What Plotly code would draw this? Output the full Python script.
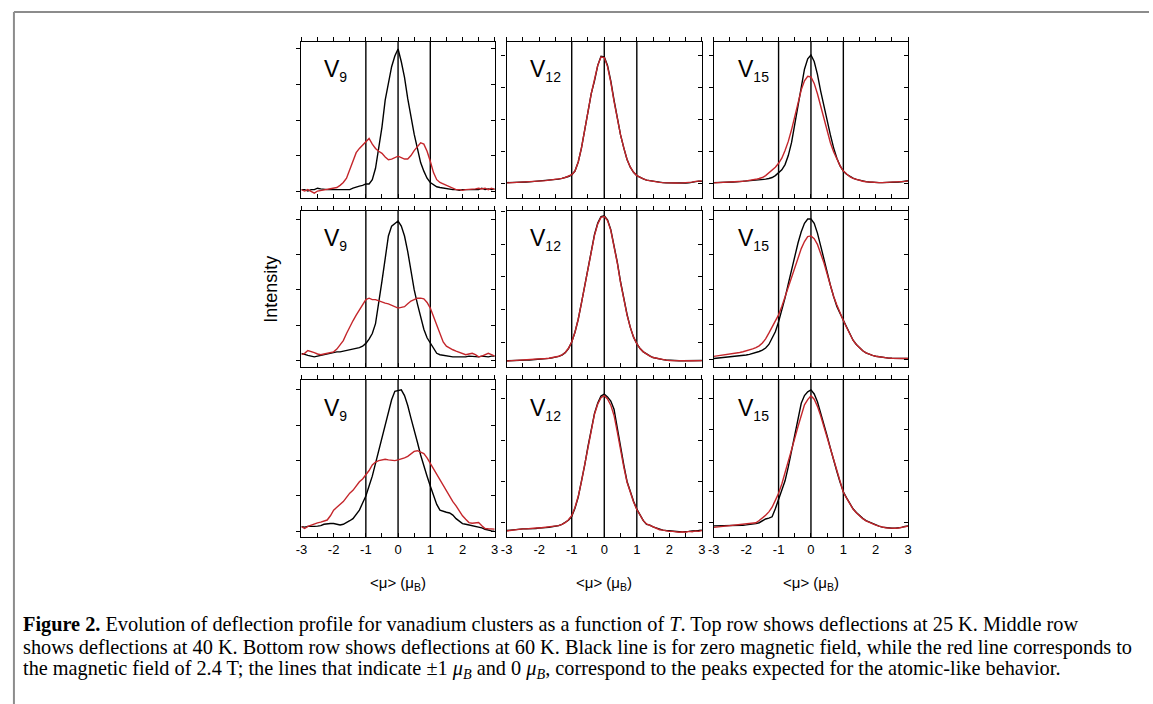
import plotly.graph_objects as go

# ---------------- data ----------------
mu = [-3.0, -2.9, -2.8, -2.7, -2.6, -2.5, -2.4, -2.3, -2.2, -2.1,
      -2.0, -1.9, -1.8, -1.7, -1.6, -1.5, -1.4, -1.3, -1.2, -1.1,
      -1.0, -0.9, -0.8, -0.7, -0.6, -0.5, -0.4, -0.3, -0.2, -0.1,
      0.0, 0.1, 0.2, 0.3, 0.4, 0.5, 0.6, 0.7, 0.8, 0.9,
      1.0, 1.1, 1.2, 1.3, 1.4, 1.5, 1.6, 1.7, 1.8, 1.9,
      2.0, 2.1, 2.2, 2.3, 2.4, 2.5, 2.6, 2.7, 2.8, 2.9, 3.0]

x_tickvals = [-3, -2.5, -2, -1.5, -1, -0.5, 0, 0.5, 1, 1.5, 2, 2.5, 3]
x_ticktext = ["-3", "", "-2", "", "-1", "", "0", "", "1", "", "2", "", "3"]
ref_lines = [-1, 0, 1]

cluster_labels = ["9", "12", "15"]

# V9, 25 K
v9_25K_zero = [0.01, 0.01, 0.0, 0.01, 0.01, 0.02, 0.015, 0.01, 0.01, 0.01,
               0.01, 0.01, 0.01, 0.005, 0.01, 0.01, 0.02, 0.03, 0.035, 0.04,
               0.05, 0.05, 0.08, 0.16, 0.29, 0.45, 0.64, 0.77, 0.875, 0.95,
               1.0, 0.91, 0.8, 0.65, 0.52, 0.40, 0.30, 0.2, 0.14, 0.09,
               0.06, 0.045, 0.03, 0.025, 0.02, 0.015, 0.01, 0.01, 0.01, 0.005,
               0.01, 0.01, 0.01, 0.015, 0.01, 0.01, 0.02, 0.01, 0.015, 0.01, 0.015]
v9_25K_field = [0.01, 0.0, 0.01, 0.0, -0.015, 0.0, 0.005, 0.01, 0.01, 0.015,
                0.02, 0.025, 0.04, 0.06, 0.09, 0.15, 0.21, 0.27, 0.3, 0.325,
                0.345, 0.37, 0.33, 0.3, 0.28, 0.265, 0.24, 0.22, 0.225, 0.235,
                0.245, 0.235, 0.225, 0.225, 0.25, 0.285, 0.315, 0.34, 0.33, 0.28,
                0.21, 0.13, 0.08, 0.06, 0.05, 0.04, 0.025, 0.015, 0.01, 0.01,
                0.005, 0.01, 0.01, 0.01, 0.015, 0.02, 0.015, 0.02, 0.01, 0.02, 0.01]
# V12, 25 K
v12_25K_zero = [0.01, 0.01, 0.01, 0.012, 0.012, 0.014, 0.015, 0.016, 0.018, 0.02,
                0.022, 0.024, 0.026, 0.028, 0.03, 0.033, 0.037, 0.043, 0.05, 0.058,
                0.07, 0.1, 0.17, 0.28, 0.42, 0.57, 0.7, 0.8, 0.92, 0.99,
                0.985, 0.92, 0.8, 0.65, 0.5, 0.38, 0.28, 0.19, 0.13, 0.09,
                0.065, 0.05, 0.04, 0.03, 0.025, 0.02, 0.015, 0.012, 0.01, 0.008,
                0.007, 0.007, 0.006, 0.006, 0.006, 0.007, 0.008, 0.012, 0.018, 0.022, 0.02]
v12_25K_field = [0.008, 0.009, 0.01, 0.011, 0.012, 0.013, 0.015, 0.016, 0.017, 0.02,
                 0.022, 0.024, 0.026, 0.029, 0.031, 0.034, 0.038, 0.043, 0.05, 0.06,
                 0.072, 0.1, 0.17, 0.28, 0.42, 0.57, 0.7, 0.81, 0.92, 0.985,
                 0.98, 0.91, 0.79, 0.64, 0.5, 0.38, 0.28, 0.19, 0.13, 0.09,
                 0.065, 0.05, 0.04, 0.03, 0.024, 0.019, 0.015, 0.012, 0.01, 0.008,
                 0.008, 0.007, 0.007, 0.006, 0.007, 0.008, 0.01, 0.014, 0.02, 0.022, 0.024]
# V15, 25 K
v15_25K_zero = [0.01, 0.01, 0.01, 0.012, 0.013, 0.014, 0.015, 0.016, 0.018, 0.02,
                0.022, 0.024, 0.026, 0.028, 0.03, 0.033, 0.037, 0.042, 0.05, 0.065,
                0.085, 0.11, 0.15, 0.22, 0.32, 0.46, 0.62, 0.77, 0.89, 0.97,
                1.0, 0.95, 0.85, 0.72, 0.6, 0.49, 0.38, 0.28, 0.2, 0.14,
                0.1, 0.075, 0.058, 0.045, 0.035, 0.028, 0.022, 0.018, 0.015, 0.012,
                0.011, 0.01, 0.01, 0.01, 0.011, 0.012, 0.013, 0.015, 0.017, 0.02, 0.025]
v15_25K_field = [0.008, 0.009, 0.01, 0.011, 0.012, 0.013, 0.015, 0.017, 0.019, 0.021,
                 0.024, 0.027, 0.031, 0.036, 0.042, 0.05, 0.065, 0.085, 0.105, 0.13,
                 0.16, 0.2, 0.26, 0.33, 0.42, 0.53, 0.64, 0.73, 0.8, 0.835,
                 0.83, 0.78, 0.7, 0.6, 0.5, 0.41, 0.32, 0.25, 0.19, 0.14,
                 0.1, 0.075, 0.056, 0.043, 0.034, 0.027, 0.021, 0.017, 0.014, 0.012,
                 0.011, 0.01, 0.01, 0.011, 0.012, 0.012, 0.014, 0.015, 0.018, 0.02, 0.024]
# V9, 40 K
v9_40K_zero = [0.05, 0.04, 0.035, 0.03, 0.025, 0.03, 0.035, 0.04, 0.05, 0.05,
               0.055, 0.06, 0.06, 0.065, 0.07, 0.073, 0.08, 0.085, 0.09, 0.1,
               0.12, 0.15, 0.19, 0.26, 0.4, 0.56, 0.72, 0.88, 0.95, 0.97,
               0.986, 0.95, 0.88, 0.77, 0.62, 0.5, 0.4, 0.3, 0.22, 0.16,
               0.12, 0.08, 0.05, 0.04, 0.035, 0.03, 0.028, 0.025, 0.025, 0.025,
               0.022, 0.025, 0.03, 0.028, 0.03, 0.025, 0.03, 0.028, 0.025, 0.03, 0.03]
v9_40K_field = [0.04, 0.05, 0.07, 0.065, 0.055, 0.045, 0.04, 0.045, 0.05, 0.05,
                0.06, 0.08, 0.11, 0.14, 0.19, 0.24, 0.28, 0.32, 0.36, 0.4,
                0.43, 0.44, 0.43, 0.43, 0.42, 0.41, 0.405, 0.4, 0.39, 0.38,
                0.37, 0.375, 0.38, 0.4, 0.42, 0.43, 0.44, 0.44, 0.435, 0.41,
                0.37, 0.31, 0.25, 0.19, 0.13, 0.1, 0.085, 0.075, 0.065, 0.055,
                0.045, 0.04, 0.045, 0.05, 0.04, 0.025, 0.03, 0.04, 0.05, 0.04, 0.03]
# V12, 40 K
v12_40K_zero = [0.085, 0.085, 0.086, 0.087, 0.087, 0.088, 0.089, 0.09, 0.091, 0.092,
                0.094, 0.096, 0.098, 0.1, 0.103, 0.107, 0.112, 0.12, 0.135, 0.16,
                0.2, 0.26, 0.34, 0.44, 0.55, 0.66, 0.77, 0.86, 0.93, 0.97,
                0.975, 0.95, 0.89, 0.8, 0.69, 0.57, 0.46, 0.37, 0.29, 0.23,
                0.19, 0.16, 0.14, 0.125, 0.115, 0.105, 0.1, 0.095, 0.092, 0.09,
                0.088, 0.087, 0.086, 0.085, 0.085, 0.085, 0.085, 0.085, 0.086, 0.086, 0.087]
v12_40K_field = [0.084, 0.085, 0.086, 0.086, 0.087, 0.088, 0.089, 0.09, 0.091, 0.093,
                 0.095, 0.097, 0.099, 0.101, 0.104, 0.108, 0.113, 0.121, 0.136, 0.162,
                 0.2, 0.26, 0.34, 0.44, 0.55, 0.66, 0.77, 0.855, 0.925, 0.965,
                 0.97, 0.945, 0.885, 0.795, 0.685, 0.565, 0.455, 0.365, 0.29, 0.23,
                 0.19, 0.16, 0.14, 0.125, 0.114, 0.105, 0.1, 0.095, 0.091, 0.089,
                 0.087, 0.086, 0.086, 0.085, 0.085, 0.084, 0.085, 0.085, 0.085, 0.086, 0.086]
# V15, 40 K
v15_40K_zero = [0.01, 0.012, 0.014, 0.016, 0.018, 0.02, 0.022, 0.025, 0.028, 0.031,
                0.035, 0.04, 0.045, 0.052, 0.06, 0.07, 0.085, 0.11, 0.15, 0.2,
                0.27, 0.35, 0.44, 0.54, 0.64, 0.74, 0.83, 0.91, 0.97, 1.0,
                1.0, 0.97, 0.9, 0.81, 0.71, 0.62, 0.53, 0.45, 0.38, 0.33,
                0.28, 0.23, 0.18, 0.14, 0.11, 0.085, 0.065, 0.05, 0.04, 0.032,
                0.026, 0.022, 0.018, 0.015, 0.013, 0.012, 0.011, 0.01, 0.01, 0.01, 0.01]
v15_40K_field = [0.025, 0.028, 0.031, 0.034, 0.037, 0.04, 0.044, 0.048, 0.053, 0.058,
                 0.064, 0.07, 0.078, 0.088, 0.1, 0.12, 0.15, 0.19, 0.23, 0.27,
                 0.32, 0.38, 0.45, 0.52, 0.59, 0.66, 0.73, 0.79, 0.84, 0.875,
                 0.88, 0.86, 0.82, 0.76, 0.69, 0.61, 0.53, 0.45, 0.39, 0.33,
                 0.28, 0.23, 0.18, 0.14, 0.11, 0.085, 0.065, 0.05, 0.04, 0.032,
                 0.026, 0.022, 0.018, 0.015, 0.013, 0.012, 0.011, 0.01, 0.01, 0.01, 0.01]
# V9, 60 K
v9_60K_zero = [0.033, 0.03, 0.035, 0.033, 0.035, 0.037, 0.04, 0.05, 0.055, 0.055,
               0.055, 0.05, 0.045, 0.05, 0.06, 0.075, 0.09, 0.12, 0.15, 0.2,
               0.25, 0.32, 0.39, 0.48, 0.57, 0.67, 0.77, 0.86, 0.93, 0.99,
               0.995, 1.0, 0.96, 0.89, 0.8, 0.72, 0.63, 0.54, 0.46, 0.39,
               0.32, 0.25, 0.19, 0.15, 0.14, 0.135, 0.13, 0.115, 0.09, 0.07,
               0.055, 0.05, 0.045, 0.04, 0.035, 0.033, 0.025, 0.015, 0.008, 0.003, 0.0]
v9_60K_field = [0.033, 0.02, 0.035, 0.045, 0.055, 0.06, 0.065, 0.07, 0.08, 0.11,
                0.15, 0.17, 0.19, 0.21, 0.24, 0.27, 0.29, 0.32, 0.35, 0.37,
                0.4, 0.43, 0.47, 0.49, 0.5, 0.505, 0.51, 0.505, 0.5, 0.5,
                0.505, 0.51, 0.52, 0.53, 0.55, 0.565, 0.57, 0.56, 0.55, 0.52,
                0.48, 0.44, 0.4, 0.36, 0.32, 0.29, 0.25, 0.21, 0.18, 0.145,
                0.11, 0.085, 0.062, 0.057, 0.058, 0.062, 0.04, 0.02, 0.018, 0.017, 0.016]
# V12, 60 K
v12_60K_zero = [-0.19, -0.18, -0.17, -0.16, -0.15, -0.15, -0.15, -0.15, -0.14, -0.14,
                -0.13, -0.13, -0.12, -0.11, -0.1, -0.09, -0.07, -0.04, 0.0, 0.06,
                0.15, 0.35, 0.62, 0.98, 1.4, 1.85, 2.27, 2.65, 2.9, 3.07,
                3.12, 3.05, 2.95, 2.75, 2.3, 1.8, 1.4, 1.0, 0.75, 0.52,
                0.33, 0.18, 0.05, -0.04, -0.06, -0.1, -0.13, -0.16, -0.18, -0.19,
                -0.2, -0.2, -0.21, -0.22, -0.22, -0.22, -0.21, -0.2, -0.2, -0.19, -0.18]
v12_60K_field = [-0.2, -0.19, -0.17, -0.16, -0.16, -0.15, -0.15, -0.14, -0.14, -0.13,
                 -0.13, -0.12, -0.12, -0.11, -0.1, -0.09, -0.07, -0.04, 0.0, 0.07,
                 0.17, 0.37, 0.64, 1.0, 1.42, 1.86, 2.27, 2.63, 2.88, 3.03,
                 3.08, 3.0, 2.85, 2.6, 2.2, 1.75, 1.35, 0.98, 0.72, 0.5,
                 0.32, 0.17, 0.05, -0.03, -0.07, -0.11, -0.14, -0.17, -0.18, -0.2,
                 -0.21, -0.21, -0.22, -0.23, -0.22, -0.23, -0.21, -0.22, -0.2, -0.21, -0.19]
# V15, 60 K
v15_60K_zero = [-0.1, -0.1, -0.1, -0.1, -0.1, -0.1, -0.1, -0.09, -0.09, -0.08,
                -0.07, -0.06, -0.05, -0.03, 0.0, 0.06, 0.12, 0.15, 0.19, 0.45,
                0.75, 1.05, 1.35, 1.8, 2.3, 2.85, 3.4, 3.85, 4.1, 4.22,
                4.28, 4.15, 3.9, 3.55, 3.17, 2.8, 2.4, 2.0, 1.65, 1.3,
                1.0, 0.8, 0.6, 0.45, 0.33, 0.23, 0.14, 0.07, 0.02, -0.03,
                -0.08, -0.11, -0.14, -0.16, -0.17, -0.18, -0.18, -0.17, -0.15, -0.12, -0.1]
v15_60K_field = [-0.15, -0.14, -0.13, -0.12, -0.11, -0.1, -0.09, -0.08, -0.07, -0.06,
                 -0.05, -0.04, -0.03, 0.0, 0.07, 0.15, 0.24, 0.35, 0.5, 0.72,
                 0.95, 1.25, 1.6, 1.95, 2.35, 2.72, 3.1, 3.45, 3.8, 3.97,
                 4.09, 3.98, 3.75, 3.45, 3.1, 2.75, 2.37, 1.98, 1.62, 1.28,
                 0.98, 0.79, 0.59, 0.44, 0.32, 0.22, 0.13, 0.06, 0.01, -0.04,
                 -0.08, -0.11, -0.14, -0.16, -0.17, -0.18, -0.18, -0.17, -0.15, -0.13, -0.11]

zero_field = [v9_25K_zero, v12_25K_zero, v15_25K_zero,
              v9_40K_zero, v12_40K_zero, v15_40K_zero,
              v9_60K_zero, v12_60K_zero, v15_60K_zero]
with_field = [v9_25K_field, v12_25K_field, v15_25K_field,
              v9_40K_field, v12_40K_field, v15_40K_field,
              v9_60K_field, v12_60K_field, v15_60K_field]

# y tick values of each panel (arbitrary intensity units)
y_ticks = [[0, 0.25, 0.5, 0.75, 1.0], [0, 0.25, 0.5, 0.75, 1.0], [0, 0.25, 0.5, 0.75, 1.0],
           [0, 0.25, 0.5, 0.75, 1.0], [0.2, 0.4, 0.6, 0.8, 1.0], [0, 0.25, 0.5, 0.75, 1.0],
           [0, 0.25, 0.5, 0.75, 1.0], [0, 1, 2, 3], [0, 1, 2, 3, 4]]
y_ranges = [[-0.049, 1.049], [-0.109, 1.101], [-0.109, 1.101],
            [-0.047, 1.057], [0.047, 1.004], [-0.05, 1.057],
            [-0.04, 1.07], [-0.347, 3.46], [-0.46, 4.6]]

# ---------------- layout geometry (pixels) ----------------
W, H = 1153, 704
col_px = [(298, 493), (505, 702), (714, 910)]
row_px = [(42, 198), (211, 367), (380, 537)]

BLACK = "#000000"
RED = "#c4262b"
FONT = "Liberation Sans, Arial, sans-serif"

fig = go.Figure()
layout = dict(width=W, height=H, autosize=False,
              margin=dict(l=0, r=0, t=0, b=0),
              paper_bgcolor="white", plot_bgcolor="white",
              showlegend=False)

annotations = []
shapes = []

for k in range(9):
    r, c = divmod(k, 3)
    n = k + 1
    m = str(k + 10)  # mirror axes
    xd = [col_px[c][0] / W, col_px[c][1] / W]
    yd = [1 - row_px[r][1] / H, 1 - row_px[r][0] / H]
    xs = "" if n == 1 else str(n)
    common_x = dict(range=[-3, 3], showgrid=False, zeroline=False,
                    showline=True, linecolor=BLACK, linewidth=1.3,
                    tickvals=x_tickvals, ticklen=4, tickwidth=1.1, tickcolor=BLACK)
    layout["xaxis" + xs] = dict(common_x, domain=xd, anchor="y" + xs, side="bottom",
                                ticks="inside", ticktext=x_ticktext,
                                showticklabels=(r == 2),
                                tickfont=dict(family=FONT, size=13, color=BLACK))
    layout["xaxis" + m] = dict(common_x, overlaying="x" + xs, anchor="y" + m,
                               side="top", ticks="outside", showticklabels=False)
    common_y = dict(range=y_ranges[k], showgrid=False, zeroline=False,
                    showline=True, linecolor=BLACK, linewidth=1.3,
                    tickvals=y_ticks[k], ticklen=4, tickwidth=1.1, tickcolor=BLACK,
                    showticklabels=False)
    layout["yaxis" + xs] = dict(common_y, domain=yd, anchor="x" + xs, side="left",
                                ticks="outside")
    layout["yaxis" + m] = dict(common_y, overlaying="y" + xs, anchor="x" + m,
                               side="right", ticks="inside")

    for v in ref_lines:
        shapes.append(dict(type="line", xref="x" + xs, yref="y" + xs + " domain",
                           x0=v, x1=v, y0=0, y1=1, layer="below",
                           line=dict(color=BLACK, width=1.4)))

    fig.add_trace(go.Scatter(x=mu, y=zero_field[k], mode="lines",
                             line=dict(color=BLACK, width=1.4),
                             xaxis="x" + xs, yaxis="y" + xs, cliponaxis=False,
                             hoverinfo="skip"))
    fig.add_trace(go.Scatter(x=mu, y=with_field[k], mode="lines",
                             line=dict(color=RED, width=1.4),
                             xaxis="x" + xs, yaxis="y" + xs, cliponaxis=False,
                             hoverinfo="skip"))
    # empty trace so that the mirrored (top/right) axes get drawn
    fig.add_trace(go.Scatter(x=[None], y=[None], mode="lines",
                             xaxis="x" + m, yaxis="y" + m, hoverinfo="skip"))

    # cluster label
    lab = cluster_labels[c]
    annotations.append(dict(
        xref="paper", yref="paper",
        x=(col_px[c][0] + (21 if c == 0 else 22)) / W,
        y=1 - (row_px[r][0] + 29) / H,
        xanchor="left", yanchor="middle", showarrow=False,
        text="V<sub><span style='font-size:14px'>" + lab + "</span></sub>",
        font=dict(family=FONT, size=23, color=BLACK)))

    if r == 2:
        annotations.append(dict(
            xref="paper", yref="paper",
            x=(col_px[c][0] + col_px[c][1]) / 2 / W, y=1 - 583 / H,
            xanchor="center", yanchor="middle", showarrow=False,
            text="&lt;μ&gt; (μ<sub>B</sub>)",
            font=dict(family=FONT, size=15, color=BLACK)))

# y title
annotations.append(dict(xref="paper", yref="paper", x=267 / W, y=1 - 289 / H,
                        xanchor="center", yanchor="middle", showarrow=False,
                        text="Intensity", textangle=-90,
                        font=dict(family=FONT, size=18, color=BLACK)))

# caption
caption_lines = [
    "<b>Figure 2.</b> Evolution of deflection profile for vanadium clusters as a function of <i>T</i>. "
    "Top row shows deflections at 25 K. Middle row",
    "shows deflections at 40 K. Bottom row shows deflections at 60 K. Black line is for zero magnetic "
    "field, while the red line corresponds to",
    "the magnetic field of 2.4 T; the lines that indicate ±1 <i>μ<sub>B</sub></i> and 0 <i>μ<sub>B</sub></i>, "
    "correspond to the peaks expected for the atomic-like behavior.",
]
caption_y = [624, 647, 669]
for txt, yy in zip(caption_lines, caption_y):
    annotations.append(dict(xref="paper", yref="paper", x=15 / W, y=1 - yy / H,
                            xanchor="left", yanchor="middle", showarrow=False,
                            text=txt,
                            font=dict(family="Liberation Serif, Times New Roman, serif",
                                      size=20.3, color=BLACK)))

# frame of the figure box
shapes.append(dict(type="line", xref="paper", yref="paper",
                   x0=8 / W, x1=1, y0=1 - 12 / H, y1=1 - 12 / H,
                   line=dict(color="#8c8c8c", width=2)))
shapes.append(dict(type="line", xref="paper", yref="paper",
                   x0=8 / W, x1=8 / W, y0=0, y1=1 - 12 / H,
                   line=dict(color="#8c8c8c", width=2)))

layout["annotations"] = annotations
layout["shapes"] = shapes
fig.update_layout(**layout)
fig.write_html("out.html",
               config={"displayModeBar": False},
               post_script="document.body.style.margin='0px';"
                           "document.body.style.overflow='hidden';")
